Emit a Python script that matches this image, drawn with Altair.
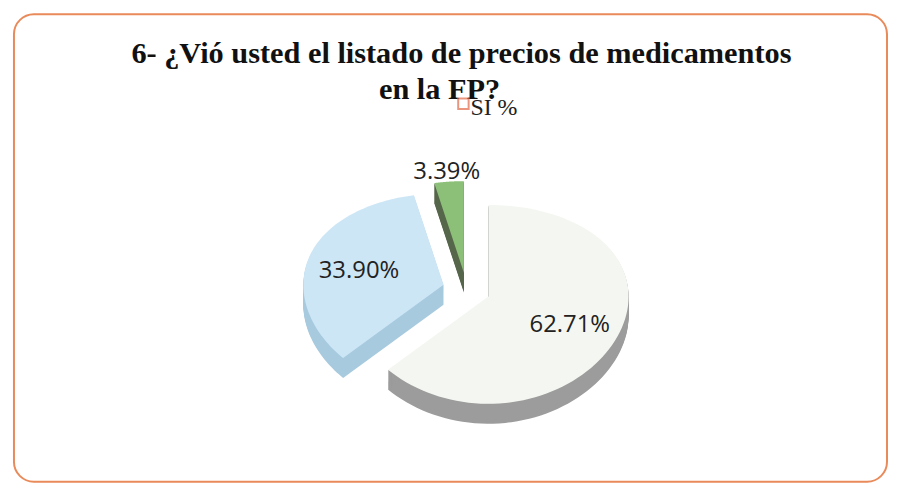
import altair as alt
import pandas as pd

# ---- data ----
categories = ["NO", "SI", "NS/NC"]
values = [62.71, 33.90, 3.39]
labels = ["62.71%", "33.90%", "3.39%"]
top_colors = ["#f4f7f1", "#cde6f6", "#8cbf78"]
side_colors = ["#9c9c9c", "#a7cade", "#56664b"]
title_lines = ["6- ¿Vió usted el listado de precios de medicamentos", "en la FP?"]
legend_label = "SI %"

# ---- layout / style ----
W, H = 878, 470
CX, CY = 455, 277          # pie centre (plot px)
A, B, P = 141, 100, 8      # ellipse radii and perspective term
EX, EY = 24, 17.3          # explode distance
DEPTH = 20
N = 90

df = pd.DataFrame({"cat": categories, "value": values, "label": labels,
                   "idx": list(range(len(values)))})

base = alt.Chart(df).transform_window(
    cum="sum(value)", sort=[alt.SortField("idx")], frame=[None, 0]
).transform_calculate(
    t0="2*PI*(datum.cum - datum.value)/100",
    t1="2*PI*datum.cum/100",
).transform_calculate(
    mid="(datum.t0 + datum.t1)/2",
).transform_calculate(
    ox=f"{CX} + {EX}*sin(datum.mid)",
    oy=f"{CY} - {EY}*cos(datum.mid)",
)

poly = base.transform_calculate(
    ks=f"sequence(0, {N + 2})"
).transform_flatten(["ks"], as_=["k"]).transform_calculate(
    th=f"datum.k == 0 ? datum.mid : datum.t0 + (datum.t1 - datum.t0)*(datum.k - 1)/{N}",
    rr="datum.k == 0 ? 0 : 1",
).transform_calculate(
    px=f"datum.ox + datum.rr*{A}*sin(datum.th)",
    py=f"datum.oy + datum.rr*(-{B}*cos(datum.th) + {P}*cos(datum.th)*cos(datum.th))",
)

def xq(f):
    return alt.X(f, scale=alt.Scale(domain=[0, W], nice=False, zero=False), axis=None)

def yq(f):
    return alt.Y(f, scale=alt.Scale(domain=[0, H], nice=False, zero=False, reverse=True), axis=None)

side = poly.transform_calculate(
    offs=f"sequence(1, {DEPTH + 1})"
).transform_flatten(["offs"], as_=["off"]).transform_calculate(
    py2="datum.py + datum.off",
    pid="datum.cat + '_' + datum.off",
).mark_line(filled=True, strokeWidth=0).encode(
    x=xq("px:Q"),
    y=yq("py2:Q"),
    order="k:Q",
    detail="pid:N",
    fill=alt.Fill("cat:N", scale=alt.Scale(domain=categories, range=side_colors), legend=None),
)

top = poly.mark_line(filled=True, strokeWidth=0).encode(
    x=xq("px:Q"), y=yq("py:Q"), order="k:Q", detail="cat:N",
    fill=alt.Fill("cat:N", scale=alt.Scale(domain=categories, range=top_colors), legend=None),
)

lab = base.transform_calculate(
    r="datum.value < 5 ? 1.15 : 0.63",
).transform_calculate(
    lx=f"datum.ox + datum.r*{A}*sin(datum.mid)",
    ly=f"datum.oy + datum.r*(-{B}*cos(datum.mid) + {P}*cos(datum.mid)*cos(datum.mid))",
).mark_text(font="Open Sans", fontSize=24, color="#222222", baseline="middle", dy=4).encode(
    x=xq("lx:Q"), y=yq("ly:Q"), text="label:N",
)

tdf = pd.DataFrame({"t": [title_lines[0]]})
t1 = alt.Chart(tdf).mark_text(font="Liberation Serif", fontSize=30.5, fontWeight="bold",
                              color="#111111", baseline="alphabetic").encode(
    x=alt.value(450), y=alt.value(49), text="t:N")
tdf2 = pd.DataFrame({"t": [title_lines[1]]})
t2 = alt.Chart(tdf2).mark_text(font="Liberation Serif", fontSize=30.5, fontWeight="bold",
                               color="#111111", baseline="alphabetic").encode(
    x=alt.value(428), y=alt.value(85), text="t:N")

ldf = pd.DataFrame({"s": [legend_label]})
sq = alt.Chart(ldf).mark_square(size=110, filled=False, color="#e26b4a", strokeWidth=2).encode(
    x=alt.value(452), y=alt.value(90))
lt = alt.Chart(ldf).mark_text(font="Liberation Serif", fontSize=24, color="#222222",
                              align="left", baseline="alphabetic").encode(
    x=alt.value(459), y=alt.value(101), text="s:N")

chart = alt.layer(side, top, lab, t1, t2, sq, lt).resolve_scale(fill="independent").properties(
    width=W, height=H, autosize="none",
    padding={"left": 6, "top": 5, "right": 2, "bottom": 2},
).configure_view(stroke="#e98a5a", strokeWidth=2, cornerRadius=20, fill="white")

chart.save("out.html", embed_options={"renderer": "svg", "actions": False})
